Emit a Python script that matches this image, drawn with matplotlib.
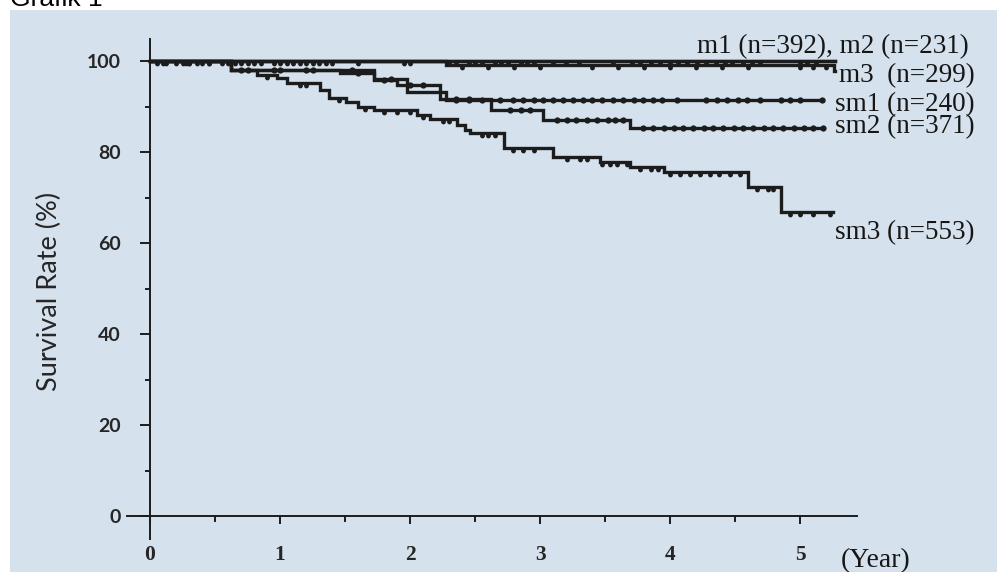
import numpy as np
import matplotlib as mpl

mpl.use('agg')

import matplotlib.pyplot as plt
from matplotlib.path import Path

# Kaplan-Meier curves: step times (years) and survival (%) after each step.
# the last entry is the end of follow-up
m1_t = [0, 5.27]
m1_s = [100, 100]
m2_t = [0, 5.27]
m2_s = [100, 100]
m3_t = [0, 2.28, 5.26, 5.27]
m3_s = [100, 99.1, 97.8, 97.8]
sm1_t = [0, 0.62, 1.72, 1.98, 2.28, 5.18]
sm1_s = [100, 98.0, 96.2, 93.2, 91.4, 91.4]
sm2_t = [0, 0.62, 1.46, 1.72, 1.90, 2.23, 2.62, 3.02, 3.69, 5.18]
sm2_s = [100, 98.0, 97.4, 95.8, 94.7, 91.8, 89.2, 87.0, 85.3, 85.3]
sm3_t = [0, 0.62, 0.82, 0.98, 1.05, 1.31, 1.38, 1.51, 1.60, 1.72, 2.05, 2.15,
         2.36, 2.42, 2.46, 2.72, 3.10, 3.46, 3.69, 3.95, 4.60, 4.85, 5.25]
sm3_s = [100, 98.0, 97.1, 96.3, 95.2, 93.6, 91.9, 91.0, 89.9, 89.2, 88.1, 87.3,
         85.9, 84.8, 84.2, 80.9, 78.9, 77.8, 76.7, 75.6, 72.3, 66.8, 66.8]

# censored observations (years)
m1_c = [0.05, 0.12, 0.2, 0.28, 0.36, 0.45, 0.55, 0.65, 0.75, 0.85, 0.95, 1.05, 1.15,
        1.25, 1.35, 1.6, 2.0, 2.35, 2.45, 2.55, 2.65, 2.75, 2.85, 2.95, 3.2, 3.56,
        3.71, 3.85, 4.0, 4.13, 4.28, 4.42, 4.56, 4.69, 5.0, 5.12]
m2_c = [0.1, 0.25, 0.4, 0.6, 0.8, 1.0, 1.2, 1.4, 1.95, 2.3, 2.5, 2.7, 2.9, 3.1, 3.3,
        3.77, 3.92, 4.06, 4.21, 4.35, 4.48, 4.63, 5.05]
m3_c = [0.3, 0.7, 1.1, 1.3, 2.4, 2.6, 2.8, 3.0, 3.4, 3.6, 3.8, 4.0, 4.2, 4.4, 4.6,
        5.0, 5.1, 5.2]
sm1_c = [0.75, 0.95, 1.2, 1.55, 1.85, 2.35, 2.45, 2.55, 2.69, 2.79, 2.87, 2.95, 3.02,
         3.10, 3.18, 3.25, 3.33, 3.40, 3.48, 3.56, 3.64, 3.72, 3.79, 3.87, 3.94, 4.05,
         4.28, 4.36, 4.44, 4.52, 4.59, 4.69, 4.85, 4.92, 5.00, 5.17]
sm2_c = [0.7, 1.0, 1.25, 1.6, 1.8, 2.0, 2.1, 2.35, 2.45, 2.77, 2.85, 2.92, 3.13, 3.21,
         3.28, 3.36, 3.44, 3.52, 3.58, 3.64, 3.79, 3.87, 3.95, 4.03, 4.10, 4.18, 4.26,
         4.33, 4.41, 4.49, 4.56, 4.64, 4.72, 4.79, 4.87, 4.95, 5.03, 5.10, 5.18]
sm3_c = [0.3, 0.45, 0.9, 1.15, 1.2, 1.45, 1.65, 1.8, 1.9, 2.0, 2.1, 2.25, 2.3, 2.55,
         2.6, 2.65, 2.79, 2.87, 2.95, 3.21, 3.31, 3.36, 3.48, 3.54, 3.59, 3.67, 3.77,
         3.85, 3.91, 4.0, 4.08, 4.15, 4.23, 4.31, 4.38, 4.46, 4.54, 4.67, 4.75, 4.79,
         4.92, 5.0, 5.1, 5.23]

labels = ['m1 (n=392), m2 (n=231)', 'm3  (n=299)', 'sm1 (n=240)', 'sm2 (n=371)', 'sm3 (n=553)']
label_x = [4.21, 5.30, 5.27, 5.27, 5.27]
label_y = [103.3, 96.8, 90.6, 85.6, 62.4]

x_ticks = [0, 1, 2, 3, 4, 5]
y_ticks = [0, 20, 40, 60, 80, 100]

bg = '#d5e1ed'
ink = '#1c1c1c'

fig = plt.figure(figsize=(9.97, 5.72), dpi=100)
fig.patch.set_facecolor('white')
ax = fig.add_axes([10 / 997, 0, 987 / 997, 562 / 572])
ax.set_facecolor(bg)
ax.set_xlim(-1.077, 6.515)
ax.set_ylim(-12.3, 111.3)

hang = Path.circle(center=(0, -0.5), radius=0.5)


def level(t, s, c):
    idx = np.searchsorted(t, c, side='right') - 1
    return np.asarray(s)[idx]


curves = [(m1_t, m1_s, m1_c, hang), (m2_t, m2_s, m2_c, hang), (m3_t, m3_s, m3_c, hang),
          (sm1_t, sm1_s, sm1_c, 'o'), (sm2_t, sm2_s, sm2_c, 'o'), (sm3_t, sm3_s, sm3_c, hang)]

for t, s, c, mk in curves:
    ax.step(t, s, where='post', color=ink, lw=2.4, solid_joinstyle='miter')
    ax.plot(c, level(t, s, c), ls='none', marker=mk, ms=4.5 if mk == 'o' else 7,
            color=ink, mew=0)

for txt, x, y in zip(labels, label_x, label_y):
    ax.text(x, y, txt, family='Liberation Serif', fontsize=19.5, va='center', ha='left',
            color='#161616')

# axes drawn through the origin, like the printed figure
for side in ['top', 'right']:
    ax.spines[side].set_visible(False)
ax.spines['left'].set_position(('data', 0))
ax.spines['bottom'].set_position(('data', 0))
ax.spines['left'].set_bounds(-5, 105)
ax.spines['bottom'].set_bounds(-0.18, 5.44)
for side in ['left', 'bottom']:
    ax.spines[side].set_linewidth(1.4)
    ax.spines[side].set_color(ink)

ax.set_yticks(y_ticks, labels=[str(v) for v in y_ticks], family='Lato', fontsize=14,
              fontweight='bold')
ax.set_yticks([10, 30, 50, 70, 90], minor=True)
ax.set_xticks(x_ticks, labels=[str(v) for v in x_ticks], family='Liberation Serif',
              fontsize=15.5, fontweight='bold')
ax.set_xticks([0.5, 1.5, 2.5, 3.5, 4.5], minor=True)
ax.tick_params(axis='y', which='major', length=7, width=1.4, color=ink, pad=14,
               labelcolor='#262626')
ax.tick_params(axis='y', which='minor', length=3.5, width=1.4, color=ink)
ax.tick_params(axis='x', which='major', length=6, width=1.4, color=ink, pad=15,
               labelcolor='#262626')
ax.tick_params(axis='x', which='minor', length=4, width=1.4, color=ink)

ax.text(-0.77, 49.5, 'Survival Rate (%)', rotation=90, family='Lato', fontsize=19.5,
        ha='center', va='center', color='#262626')
ax.text(5.31, -9.9, '(Year)', family='Liberation Serif', fontsize=20, ha='left',
        va='center', color='#161616')

fig.text(10 / 997, 1 - 6 / 572, 'Grafik 1', family='Liberation Sans', fontsize=19,
         va='baseline', ha='left', color='black')

fig.savefig('out.png', dpi=100)
